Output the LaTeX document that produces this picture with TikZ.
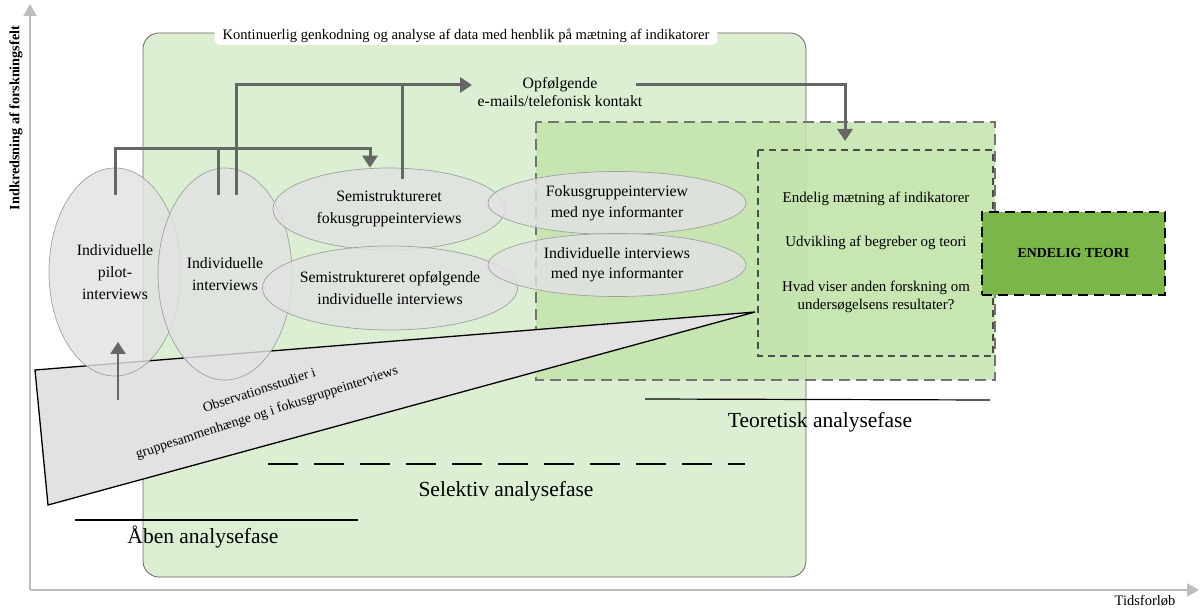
\documentclass[tikz,border=0pt]{standalone}
\usepackage{fontspec}
\setmainfont{Liberation Serif}
\usetikzlibrary{arrows.meta,shapes.geometric}
\definecolor{axisgray}{HTML}{BDBDBD}
\definecolor{lightgreen}{HTML}{DCEFD3}
\definecolor{midgreen}{HTML}{C3E4AC}
\definecolor{darkgreen}{HTML}{7AB648}
\definecolor{ellfill}{HTML}{E2E2E2}
\definecolor{ellline}{HTML}{A0A0A0}
\definecolor{linkgray}{HTML}{666666}
\tikzset{
  axis/.style={draw=axisgray, line width=2pt, -{Triangle[length=12pt,width=13pt]}},
  bubble/.style={ellipse, draw=ellline, fill=ellfill, fill opacity=0.82, text opacity=1,
    line width=0.7pt, align=center, inner sep=0pt, font=\fontsize{15.8}{20}\selectfont},
  link/.style={draw=linkgray, line width=3pt},
  linkarrow/.style={link, -{Triangle[length=12pt,width=15pt]}},
  phase/.style={font=\fontsize{21.5}{24}\selectfont},
  phaseline/.style={draw=black, line width=1.2pt},
  note/.style={align=center, font=\fontsize{14.9}{18}\selectfont},
}
\begin{document}
\begin{tikzpicture}[x=1pt,y=-1pt]
\useasboundingbox (0,0) rectangle (1200,609);

% axes
\coordinate (origin) at (30,590);
\coordinate (ytop) at (30,4);
\coordinate (xend) at (1199,590);
\draw[axis] (origin) -- (ytop);
\draw[axis] (origin) -- (xend);
\node[rotate=90, font=\fontsize{14.2}{16}\selectfont\bfseries] (yl) at (16,118) {Indkredsning af forskningsfelt};
\node[font=\fontsize{14.5}{16}\selectfont] (xl) at (1145,601) {Tidsforløb};

% continuous coding frame
\draw[fill=lightgreen, draw=gray!80!black, line width=0.8pt, rounded corners=16pt]
  (143,33) rectangle (806,577);
\node[fill=white, rounded corners=6pt, inner xsep=8pt, inner ysep=2pt,
  font=\fontsize{14.6}{16}\selectfont] (title) at (466,36)
  {Kontinuerlig genkodning og analyse af data med henblik på mætning af indikatorer};

% theoretical zone
\draw[fill=midgreen, fill opacity=0.85, draw=gray!90!black, line width=1.5pt,
  dash pattern=on 11pt off 6pt] (536,122) rectangle (995,380);
\draw[fill=midgreen, fill opacity=0.6, draw=gray!60!black, line width=1.1pt,
  dash pattern=on 7pt off 5pt] (758,150) rectangle (993,356);
\node[note] (sat) at (876,199) {Endelig mætning af indikatorer};
\node[note] (dev) at (876,243) {Udvikling af begreber og teori};
\node[note] (oth) at (876,297)
  {Hvad viser anden forskning om\\undersøgelsens resultater?};

% final theory
\node[draw=black, fill=darkgreen, line width=2pt, dash pattern=on 10pt off 6pt,
  minimum width=183pt, minimum height=83pt,
  font=\fontsize{13.8}{16}\selectfont\bfseries] (final) at (1073.5,253.5) {ENDELIG TEORI};

% observation wedge
\coordinate (w1) at (35,370);
\coordinate (w2) at (755,312);
\coordinate (w3) at (48,505);
\draw[fill=ellfill, draw=black, line width=1.3pt] (w1) -- (w2) -- (w3) -- cycle;
\node[rotate=18, font=\fontsize{13.8}{16}\selectfont] (obs1) at (259,390)
  {Observationsstudier i};
\node[rotate=18, font=\fontsize{13.8}{16}\selectfont] (obs2) at (267,413)
  {gruppesammenhænge og i fokusgruppeinterviews};

% interview bubbles
\node[bubble, minimum width=132pt, minimum height=208pt] (pilot) at (115,272)
  {Individuelle\\[2pt]pilot-\\[2pt]interviews};
\node[bubble, minimum width=134pt, minimum height=212pt] (indiv) at (225,274)
  {Individuelle\\[2pt]interviews};
\node[bubble, minimum width=232pt, minimum height=82pt] (focus) at (389,209)
  {Semistruktureret\\[2pt]fokusgruppeinterviews};
\node[bubble, minimum width=235pt, minimum height=84pt] (follow) at (390,288)
  {Semistruktureret opfølgende\\[2pt]individuelle interviews};
\node[bubble, minimum width=258pt, minimum height=63pt] (newfocus) at (617,203)
  {Fokusgruppeinterview\\[1pt]med nye informanter};
\node[bubble, minimum width=258pt, minimum height=63pt] (newindiv) at (617,265)
  {Individuelle interviews\\med nye informanter};

% follow-up contact
\node[align=center, font=\fontsize{15.8}{18}\selectfont] (contact) at (560,92)
  {Opfølgende\\e-mails/telefonisk kontakt};

% connectors
\coordinate (p1) at (115,195);
\coordinate (p2) at (218,195);
\coordinate (p3) at (236,195);
\coordinate (p4) at (402,179);
\coordinate (c0) at (472,85);
\coordinate (c1) at (636,85);
\coordinate (c2) at (845,141);
\coordinate (u1) at (118,400);
\draw[linkarrow] (p1) |- (370,149) -- (focus.north -| 370,0);
\draw[link] (p2) -- (218,149);
\draw[linkarrow] (p3) |- (c0);
\draw[link] (p4) -- (402,85);
\draw[linkarrow] (c1) -| (c2);
\draw[linkarrow, line width=2.6pt] (u1) -- (118,342);

% phases
\draw[phaseline] (75,520) -- (358,520);
\node[phase] (open) at (203,537) {Åben analysefase};
\draw[phaseline, dash pattern=on 30pt off 16pt] (268,464) -- (745,464);
\node[phase] (sel) at (506,491) {Selektiv analysefase};
\draw[phaseline] (645,399) -- (990,400);
\node[phase] (theo) at (820,422) {Teoretisk analysefase};
\end{tikzpicture}
\end{document}
